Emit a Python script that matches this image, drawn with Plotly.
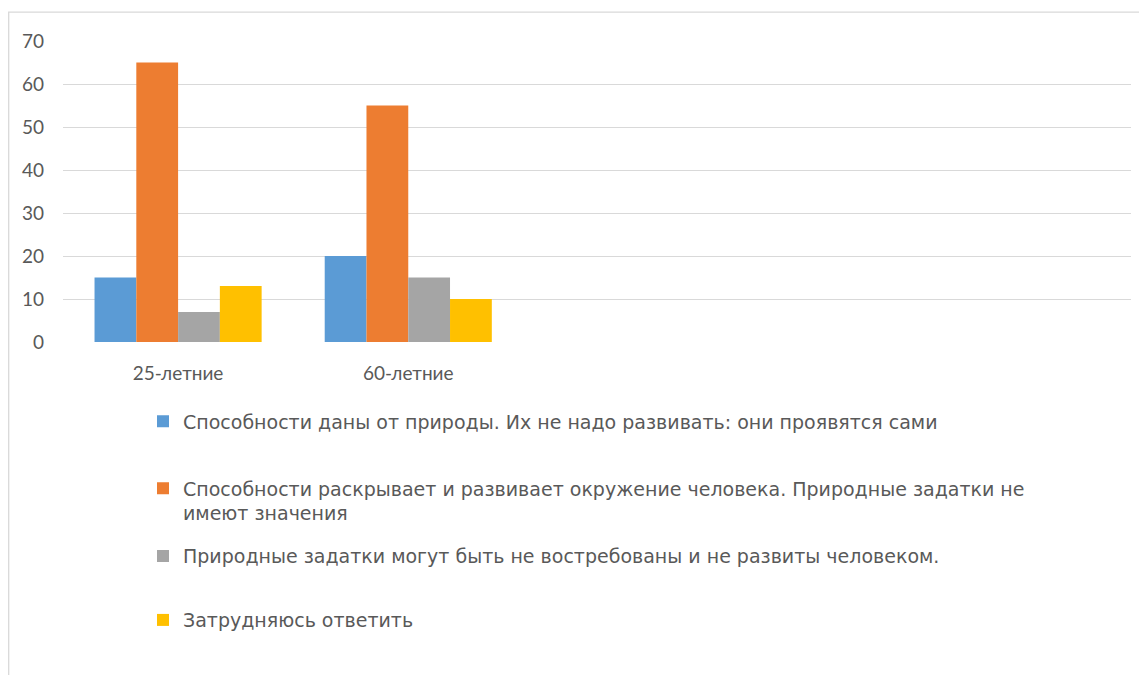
import plotly.graph_objects as go

categories = ["25-летние", "60-летние"]
series_names = [
    "Способности даны от природы. Их не надо развивать: они проявятся сами",
    "Способности раскрывает и развивает окружение человека. Природные задатки не<br>имеют значения",
    "Природные задатки могут быть не востребованы и не развиты человеком.",
    "Затрудняюсь ответить",
]
values_nature = [15, 20]
values_environment = [65, 55]
values_not_developed = [7, 15]
values_hard_to_say = [13, 10]
y_ticks = [0, 10, 20, 30, 40, 50, 60, 70]

colors = ["#5B9BD5", "#ED7D31", "#A5A5A5", "#FFC000"]
series_values = [values_nature, values_environment, values_not_developed, values_hard_to_say]

OFF = 8  # page body margin
W, H = 1147 - OFF, 675 - OFF
# plot area in page pixels
PL, PR, PT, PB = 63, 1131, 41, 342.5
L, R, T, B = PL - OFF, PR - OFF, PT - OFF, PB - OFF
PW, PH = R - L, B - T

def px_x(X):
    return (X - OFF - L) / PW

def px_y(Y):
    return (B - (Y - OFF)) / PH

tick_font = "Lato, 'Open Sans', sans-serif"
legend_font = "'DejaVu Sans', sans-serif"
text_color = "#595959"

fig = go.Figure()
legend_ids = ["legend", "legend2", "legend3", "legend4"]
for name, vals, col, lg in zip(series_names, series_values, colors, legend_ids):
    fig.add_trace(go.Bar(
        x=categories, y=vals, name=name, marker=dict(color=col, line=dict(width=0)),
        legend=lg,
    ))

legend_tops = [403, 470, 538, 602]
layout_legends = {}
for lg, top in zip(legend_ids, legend_tops):
    layout_legends[lg] = dict(
        x=px_x(143), y=px_y(top), xanchor="left", yanchor="top",
        font=dict(family=legend_font, size=19, color=text_color),
        bgcolor="rgba(0,0,0,0)", valign="top", itemclick=False,
    )

fig.update_layout(
    width=W, height=H,
    margin=dict(l=L, r=W - R, t=T, b=H - B, pad=0),
    paper_bgcolor="white", plot_bgcolor="white",
    barmode="group", bargap=0.274, bargroupgap=0,
    showlegend=True,
    font=dict(family=tick_font, color=text_color),
    xaxis=dict(
        type="category", range=[-0.5, 4.14], showgrid=False, zeroline=False,
        showline=False, ticks="", tickfont=dict(size=19, color=text_color),
        ticklabelstandoff=18,
    ),
    yaxis=dict(
        range=[0, 70], tickvals=y_ticks, showgrid=True, gridcolor="#D9D9D9",
        gridwidth=1.4, zeroline=False, showline=False, ticks="",
        tickfont=dict(size=19, color=text_color), ticklabelstandoff=18,
    ),
    shapes=[dict(
        type="rect", xref="paper", yref="paper",
        x0=px_x(8.7), x1=px_x(1146), y0=px_y(690), y1=px_y(12),
        line=dict(color="#D9D9D9", width=1.3), fillcolor="rgba(0,0,0,0)", layer="below",
    )],
    **layout_legends,
)

fig.write_html("out.html")
